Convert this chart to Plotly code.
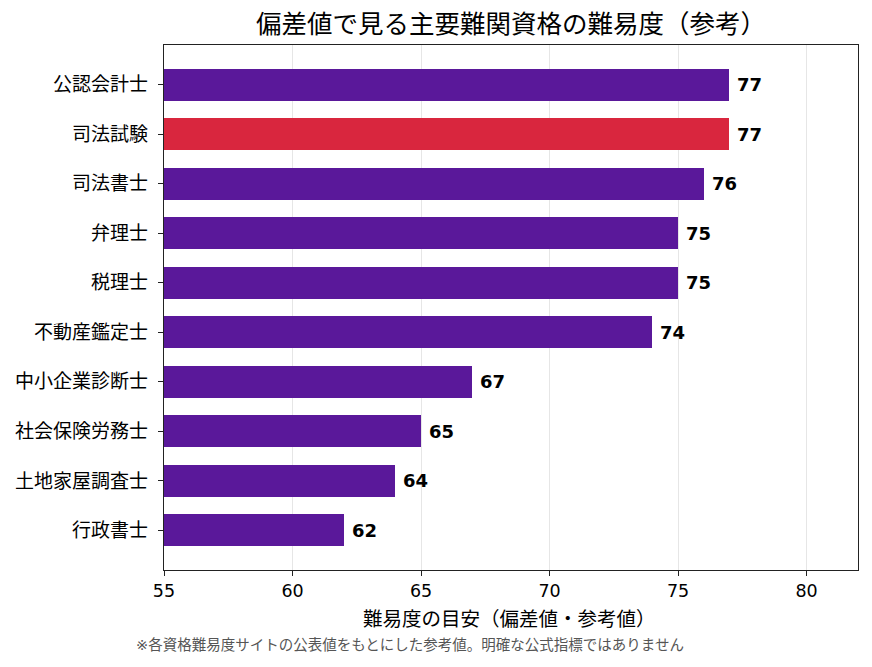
import plotly.graph_objects as go

categories = ["公認会計士", "司法試験", "司法書士", "弁理士", "税理士", "不動産鑑定士",
              "中小企業診断士", "社会保険労務士", "土地家屋調査士", "行政書士"]
values = [77, 77, 76, 75, 75, 74, 67, 65, 64, 62]
highlight = "司法試験"
x_min, x_max = 55, 82
x_ticks = [55, 60, 65, 70, 75, 80]
purple = "#5a189a"
red = "#d9263e"
colors = [red if c == highlight else purple for c in categories]

font_family = "DejaVu Sans, Noto Sans CJK JP, sans-serif"

fig = go.Figure()
fig.add_trace(go.Bar(
    y=categories, x=[v - x_min for v in values], base=x_min, orientation="h",
    marker=dict(color=colors, line=dict(width=0)),
    width=0.65, hoverinfo="skip",
))

for c, v in zip(categories, values):
    fig.add_annotation(x=v, y=c, text=f"<b>{v}</b>", showarrow=False,
                       xanchor="left", xshift=6, yanchor="middle",
                       font=dict(size=18, color="black", family=font_family))

fig.update_layout(
    width=872, height=667,
    margin=dict(l=164, r=14, t=45, b=97),
    paper_bgcolor="white", plot_bgcolor="white",
    font=dict(family=font_family, color="black", size=17),
    showlegend=False,
    bargap=0,
)
fig.add_annotation(text="偏差値で見る主要難関資格の難易度（参考）",
                   xref="paper", yref="paper", x=(511.5 - 164) / 694, y=1 + (45 - 24) / 525,
                   xanchor="center", yanchor="middle", showarrow=False,
                   font=dict(size=25.5, color="black", family=font_family))
fig.update_xaxes(
    range=[x_min, x_max], tickvals=x_ticks,
    showgrid=True, gridcolor="rgba(200,200,200,0.45)", gridwidth=1,
    showline=True, linecolor="#222", linewidth=1.2, mirror=True,
    ticks="outside", ticklen=5, tickcolor="#222",
    tickfont=dict(size=17.5), zeroline=False, layer="above traces",
)
fig.update_yaxes(
    categoryorder="array", categoryarray=categories[::-1],
    range=[-0.8, 9.8],
    showgrid=False, showline=True, linecolor="#222", linewidth=1.2, mirror=True,
    ticks="outside", ticklen=5, tickcolor="#222", ticklabelstandoff=6,
    tickfont=dict(size=19), zeroline=False,
)
fig.add_annotation(text="難易度の目安（偏差値・参考値）",
                   xref="paper", yref="paper", x=0.498, y=-(619 - 570) / 525,
                   xanchor="center", yanchor="middle", showarrow=False,
                   font=dict(size=19.5, color="black", family=font_family))
fig.add_annotation(text="※各資格難易度サイトの公表値をもとにした参考値。明確な公式指標ではありません",
                   xref="paper", yref="paper", x=(410 - 164) / 694, y=-(645 - 570) / 525,
                   xanchor="center", yanchor="middle", showarrow=False,
                   font=dict(size=14.5, color="#555", family=font_family))

fig.write_html("out.html")
